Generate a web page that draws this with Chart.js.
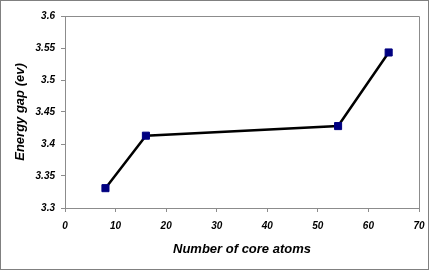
<!DOCTYPE html>
<html lang="en">

<head>
    <meta charset="UTF-8">
    <title>Energy gap vs core atoms</title>
    <script src="https://cdn.jsdelivr.net/npm/chart.js"></script>
    <style>
        html, body { margin: 0; padding: 0; background: #fff; }
        #box { width: 437px; height: 272px; }
    </style>
</head>

<body>
    <div id="box">
        <canvas id="grafico"></canvas>
    </div>

    <script>
        // data
        const coreAtoms = [8, 16, 54, 64];
        const energyGap = [3.331, 3.413, 3.428, 3.543];

        // axis ticks
        const xTicks = [0, 10, 20, 30, 40, 50, 60, 70];
        const yTicks = [3.3, 3.35, 3.4, 3.45, 3.5, 3.55, 3.6];

        const fonte = 'Liberation Sans, Arial, sans-serif';
        const cinza = '#8c8c8c';

        // white background, outer frame and top/right border of the plot
        const molduras = {
            id: 'molduras',
            beforeDraw(chart) {
                const c = chart.ctx;
                c.save();
                c.fillStyle = '#fff';
                c.fillRect(0, 0, chart.width, chart.height);
                c.restore();
            },
            afterDatasetsDraw(chart) {
                const c = chart.ctx;
                const a = chart.chartArea;
                c.save();
                c.strokeStyle = cinza;
                c.lineWidth = 1;
                c.beginPath();
                c.moveTo(a.left, a.top + 0.5);
                c.lineTo(a.right + 0.5, a.top + 0.5);
                c.lineTo(a.right + 0.5, a.bottom);
                c.stroke();
                c.strokeStyle = '#808080';
                c.strokeRect(0.5, 0.5, 428, 269);
                c.restore();
            }
        };

        new Chart(document.getElementById('grafico'), {
            type: 'scatter',
            data: {
                datasets: [{
                    data: coreAtoms.map((x, i) => ({ x: x, y: energyGap[i] })),
                    showLine: true,
                    borderColor: '#000',
                    borderWidth: 2.5,
                    pointStyle: 'rect',
                    pointRadius: 5,
                    pointBorderWidth: 1,
                    pointBackgroundColor: '#000080',
                    pointBorderColor: '#000080',
                    tension: 0
                }]
            },
            options: {
                responsive: true,
                maintainAspectRatio: false,
                animation: false,
                events: [],
                layout: { padding: { left: 0, top: 16, right: 18, bottom: 0 } },
                plugins: { legend: { display: false }, tooltip: { enabled: false } },
                scales: {
                    x: {
                        type: 'linear',
                        min: 0,
                        max: 70,
                        afterBuildTicks: ax => { ax.ticks = xTicks.map(v => ({ value: v })); },
                        afterFit: ax => { ax.height = 64; },
                        grid: { drawOnChartArea: false, drawTicks: true, tickLength: 4, color: cinza },
                        border: { color: cinza },
                        ticks: {
                            color: '#000',
                            padding: 8,
                            maxRotation: 0,
                            font: { family: fonte, size: 10, weight: 'bold', style: 'italic' }
                        },
                        title: {
                            display: true,
                            text: 'Number of core atoms',
                            color: '#000',
                            padding: { top: 4, bottom: 15 },
                            font: { family: fonte, size: 13, weight: 'bold', style: 'italic' }
                        }
                    },
                    y: {
                        min: 3.3,
                        max: 3.6,
                        afterBuildTicks: ax => { ax.ticks = yTicks.map(v => ({ value: v })); },
                        afterFit: ax => { ax.width = 65; },
                        grid: { drawOnChartArea: false, drawTicks: true, tickLength: 4, color: cinza },
                        border: { color: cinza },
                        ticks: {
                            color: '#000',
                            padding: 6,
                            callback: v => String(Number(v.toFixed(2))),
                            font: { family: fonte, size: 10, weight: 'bold', style: 'italic' }
                        },
                        title: {
                            display: true,
                            text: 'Energy gap (ev)',
                            color: '#000',
                            padding: { top: 13, bottom: 0 },
                            font: { family: fonte, size: 13, weight: 'bold', style: 'italic' }
                        }
                    }
                }
            },
            plugins: [molduras]
        });
    </script>
</body>

</html>
